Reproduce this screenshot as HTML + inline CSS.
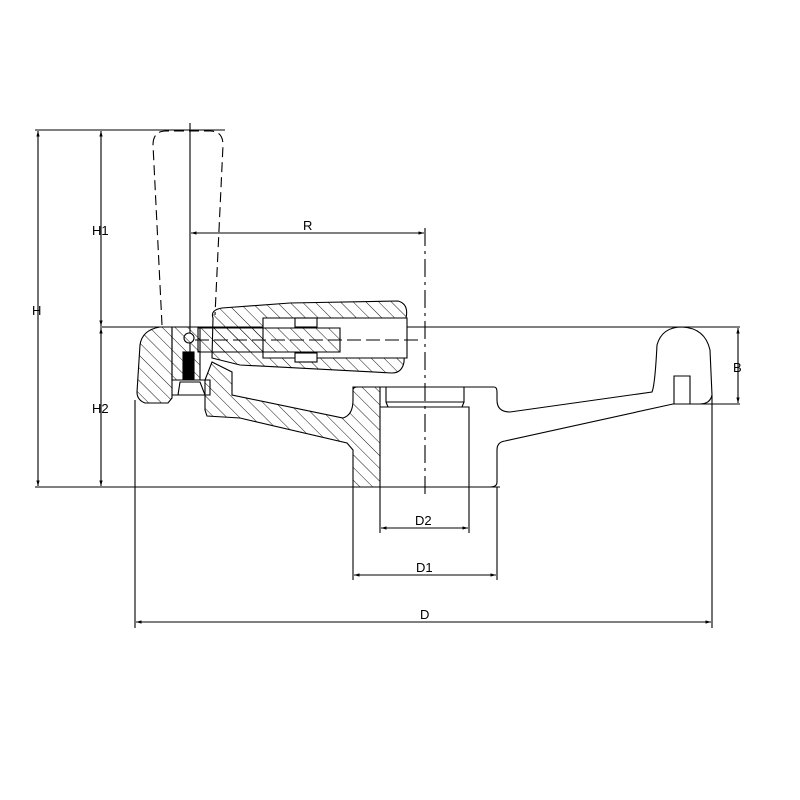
<!DOCTYPE html>
<html><head><style>body{margin:0;background:#fff}svg{display:block}text{font-family:"Liberation Sans",sans-serif;font-size:13px;fill:#000}</style></head>
<body>
<svg width="800" height="800" viewBox="0 0 800 800" xmlns="http://www.w3.org/2000/svg">
<defs>
<pattern id="h" patternUnits="userSpaceOnUse" width="9" height="9" patternTransform="rotate(-45)">
<line x1="0" y1="0" x2="0" y2="9" stroke="#000" stroke-width="0.9"/>
</pattern>
<marker id="a" viewBox="0 0 10 10" refX="10" refY="5" markerWidth="7" markerHeight="5" orient="auto-start-reverse"><path d="M0,2 L10,5 L0,8z" fill="#000"/></marker>
</defs>
<g fill="none" stroke="#000" stroke-width="1.1">
<line x1="35" y1="130" x2="225" y2="130"/>
<line x1="100" y1="327" x2="740" y2="327"/>
<line x1="35" y1="487" x2="500" y2="487"/>
<line x1="38" y1="131" x2="38" y2="486" marker-start="url(#a)" marker-end="url(#a)"/>
<line x1="101" y1="131" x2="101" y2="326" marker-start="url(#a)" marker-end="url(#a)"/>
<line x1="101" y1="328" x2="101" y2="486" marker-start="url(#a)" marker-end="url(#a)"/>
<line x1="191" y1="233" x2="424" y2="233" marker-start="url(#a)" marker-end="url(#a)"/>
<line x1="738" y1="328" x2="738" y2="403" marker-start="url(#a)" marker-end="url(#a)"/>
<line x1="700" y1="404" x2="740" y2="404"/>
<line x1="135" y1="400" x2="135" y2="628"/>
<line x1="712" y1="395" x2="712" y2="628"/>
<line x1="136" y1="622" x2="711" y2="622" marker-start="url(#a)" marker-end="url(#a)"/>
<line x1="353" y1="487" x2="353" y2="580"/>
<line x1="497" y1="487" x2="497" y2="580"/>
<line x1="354" y1="575" x2="496" y2="575" marker-start="url(#a)" marker-end="url(#a)"/>
<line x1="380" y1="487" x2="380" y2="533"/>
<line x1="469" y1="487" x2="469" y2="533"/>
<line x1="381" y1="528" x2="468" y2="528" marker-start="url(#a)" marker-end="url(#a)"/>
<path d="M162,325 L153,145 Q153,131 166,131 L210,131 Q223,131 223,145 L215,315" stroke-dasharray="10,5"/>
<line x1="190" y1="123" x2="190" y2="360"/>
<line x1="425" y1="228" x2="425" y2="495" stroke-dasharray="18,5,3,5"/>
<!-- left rim -->
<path d="M160,327 L172,327 L172,398 L168,403 L145,403 Q137,400 137,392 L140,345 Q142,330 160,327z" fill="url(#h)"/>
<!-- lever -->
<path d="M213,318 Q210,310 222,308 L290,303 L398,301 Q409,304 406,318 L404,362 Q402,373 392,373 L240,365 L212,358z" fill="url(#h)"/>
<path d="M263,318 L407,318 L407,358 L263,358z" fill="#fff"/>
<path d="M198,328 L340,328 L340,352 L198,352z" fill="url(#h)"/>
<rect x="295" y="318" width="22" height="9" fill="#fff"/>
<rect x="295" y="353" width="22" height="9" fill="#fff"/>
<line x1="195" y1="340" x2="420" y2="340" stroke-dasharray="14,5"/>
<circle cx="189" cy="338" r="5" fill="#fff"/>
<!-- inner block -->
<path d="M172,327 L200,327 L200,380 L172,380z" fill="url(#h)"/>
<rect x="183" y="352" width="11" height="27" fill="#000"/>
<path d="M172,380 L210,380 L210,395 L172,395"/>
<path d="M180,382 L200,382 L205,395 L178,395z"/>
<!-- spoke + hub hatched -->
<path d="M205,380 L212,362 L232,372 L232,395 L343,418 Q353,415 353,400 L353,387 L380,387 L380,487 L353,487 L353,450 L347,443 L240,418 L207,416 L205,410z" fill="url(#h)"/>
<path d="M353,390 Q353,387 358,387 L494,387 Q497,387 497,392 L497,400 Q497,412 510,412 L652,392 Q655,385 657,345 Q662,327 682,327 Q705,328 710,350 L712,395 Q710,404 700,404 L673,404 L505,441 Q497,442 497,450 L497,482 Q497,487 490,487"/>
<path d="M380,407 L469,407 L469,487"/>
<path d="M386,387 L386,402 L388,407 M464,387 L464,402 L462,407 M386,402 L464,402"/>
<path d="M674,404 L674,376 L690,376 L690,404"/>
</g>
<text x="32" y="315">H</text>
<text x="92" y="235">H1</text>
<text x="92" y="413">H2</text>
<text x="303" y="230">R</text>
<text x="733" y="372">B</text>
<text x="415" y="525">D2</text>
<text x="416" y="572">D1</text>
<text x="420" y="619">D</text>
</svg>
</body></html>
